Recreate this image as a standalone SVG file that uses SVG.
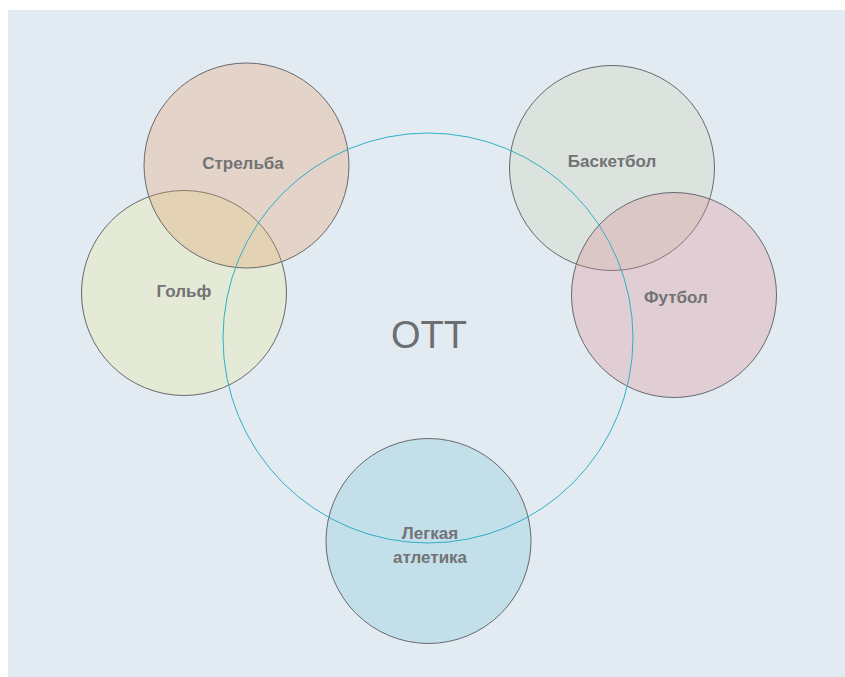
<svg xmlns="http://www.w3.org/2000/svg" width="845" height="677" viewBox="0 0 845 677">
  <style>
    .sport { stroke: #666a6e; stroke-width: 1; }
    .label { font-family: "Liberation Sans", Arial, sans-serif; font-weight: bold; font-size: 17px; fill: #727374; text-anchor: middle; }
    .title { font-family: "Liberation Sans", Arial, sans-serif; font-size: 38px; fill: #6d6e71; text-anchor: middle; }
    .ring { fill: none; stroke: #2fb0c6; stroke-width: 1; }
  </style>
  <rect x="8" y="10" width="837" height="667" fill="#e3ebf2"/>

  <g id="golf">
    <circle class="sport" cx="184" cy="293" r="102.5" fill="#e4ead6"/>
    <text class="label" x="184" y="297">Гольф</text>
  </g>
  <g id="shooting">
    <circle class="sport" cx="246.5" cy="165.5" r="102.5" fill="#e39b66" fill-opacity="0.3"/>
    <text class="label" x="243" y="169">Стрельба</text>
  </g>
  <g id="basketball">
    <circle class="sport" cx="612" cy="168" r="102.5" fill="#dce2de"/>
    <text class="label" x="612" y="167">Баскетбол</text>
  </g>
  <g id="football">
    <circle class="sport" cx="674" cy="295" r="102.5" fill="#d98a8e" fill-opacity="0.3"/>
    <text class="label" x="676" y="303">Футбол</text>
  </g>
  <g id="athletics">
    <circle class="sport" cx="428.5" cy="541" r="102.5" fill="#c3dfe9"/>
    <text class="label" x="430" y="539">Легкая</text>
    <text class="label" x="430" y="563">атлетика</text>
  </g>

  <g id="ott">
    <circle class="ring" cx="428" cy="338" r="205"/>
    <text class="title" x="429" y="348">OTT</text>
  </g>
</svg>
